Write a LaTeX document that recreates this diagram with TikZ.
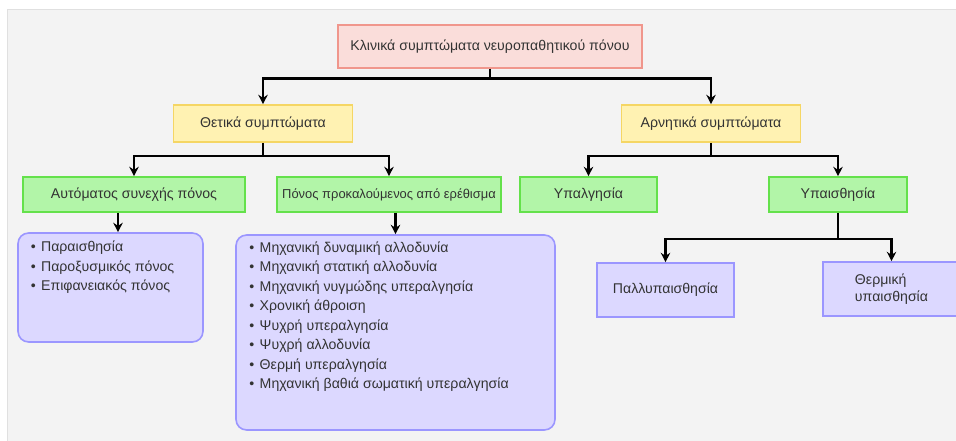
\documentclass[tikz,border=0pt]{standalone}
\usepackage{fontspec}
\setmainfont{Liberation Sans}
\definecolor{titlepink}{RGB}{250,221,218}
\definecolor{titleedge}{RGB}{240,150,140}
\definecolor{posyellow}{RGB}{255,242,178}
\definecolor{yellowedge}{RGB}{245,214,100}
\definecolor{symgreen}{RGB}{178,245,168}
\definecolor{greenedge}{RGB}{100,225,75}
\definecolor{listlilac}{RGB}{220,216,255}
\definecolor{lilacedge}{RGB}{155,150,255}
\definecolor{panelgray}{RGB}{243,243,243}
\usetikzlibrary{arrows.meta, positioning, calc}

\begin{document}
\begin{tikzpicture}[x=0.75pt, y=-0.75pt,
    box/.style={draw, line width=1.2pt, inner sep=2pt, text=black!80, font=\fontsize{10.6}{12.5}\selectfont},
    titlebox/.style={box, fill=titlepink, draw=titleedge, minimum width=228pt, minimum height=32pt},
    groupbox/.style={box, fill=posyellow, draw=yellowedge, minimum width=134pt, minimum height=27.75pt},
    symbox/.style={box, fill=symgreen, draw=greenedge, minimum height=26.25pt},
    lilacbox/.style={box, fill=listlilac, draw=lilacedge},
    listbox/.style={lilacbox, rounded corners=8pt},
    listtext/.style={inner sep=0pt, align=left, text=black!80, font=\fontsize{10.6}{14.6}\selectfont},
    link/.style={line width=1.7pt, black},
    arr/.style={link, -{Stealth[length=7pt, width=7pt]}}
  ]
  \useasboundingbox (0,0) rectangle (956,441);
  \fill[panelgray, draw=black!12] (7,9) rectangle (970,460);

  % top level
  \node[titlebox] (klin) at (490,46.5) {Κλινικά συμπτώματα νευροπαθητικού πόνου};
  \node[groupbox] (thet) at (263,123.5) {Θετικά συμπτώματα};
  \node[groupbox] (arn) at (711,123.5) {Αρνητικά συμπτώματα};

  % green row
  \node[symbox, minimum width=166.5pt] (auto) at (134,194.5) {Αυτόματος συνεχής πόνος};
  \node[symbox, minimum width=168pt, font=\fontsize{9.7}{11}\selectfont] (pon) at (389,194.5) {Πόνος προκαλούμενος από ερέθισμα};
  \node[symbox, minimum width=102.75pt] (ypalg) at (588.5,194.5) {Υπαλγησία};
  \node[symbox, minimum width=103.5pt] (ypais) at (838,194.5) {Υπαισθησία};

  % lists
  \node[listbox, minimum width=138.75pt, minimum height=81.75pt] (list1) at (110.5,287.5) {};
  \node[listtext, anchor=north west] (items1) at ([xshift=10pt, yshift=-6.5pt]list1.north west)
    {\textbullet\hspace{4pt}Παραισθησία\\
     \textbullet\hspace{4pt}Παροξυσμικός πόνος\\
     \textbullet\hspace{4pt}Επιφανειακός πόνος};
  \node[listbox, minimum width=239.25pt, minimum height=146.25pt] (list2) at (395.5,332.5) {};
  \node[listtext, anchor=north west] (items2) at ([xshift=10.5pt, yshift=-5.5pt]list2.north west)
    {\textbullet\hspace{4pt}Μηχανική δυναμική αλλοδυνία\\
     \textbullet\hspace{4pt}Μηχανική στατική αλλοδυνία\\
     \textbullet\hspace{4pt}Μηχανική νυγμώδης υπεραλγησία\\
     \textbullet\hspace{4pt}Χρονική άθροιση\\
     \textbullet\hspace{4pt}Ψυχρή υπεραλγησία\\
     \textbullet\hspace{4pt}Ψυχρή αλλοδυνία\\
     \textbullet\hspace{4pt}Θερμή υπεραλγησία\\
     \textbullet\hspace{4pt}Μηχανική βαθιά σωματική υπεραλγησία};

  % negative branch leaves
  \node[lilacbox, minimum width=102.75pt, minimum height=40.5pt] (pall) at (665.5,290) {Παλλυπαισθησία};
  \node[lilacbox, minimum width=102.75pt, minimum height=40.5pt, align=left] (therm) at (891.5,289) {Θερμική\\υπαισθησία};

  % connectors
  \draw[link] (klin.south) -- ++(0,10) coordinate (s1);
  \draw[arr] (s1) -| (thet.north);
  \draw[arr] (s1) -| (arn.north);
  \draw[link] (thet.south) -- ++(0,13) coordinate (s2);
  \draw[arr] (s2) -| (auto.north);
  \draw[arr] (s2) -| (pon.north);
  \draw[link] (arn.south) -- ++(0,13) coordinate (s3);
  \draw[arr] (s3) -| (ypalg.north);
  \draw[arr] (s3) -| (ypais.north);
  \draw[link] (ypais.south) -- ++(0,26.5) coordinate (s4);
  \draw[arr] (s4) -| (pall.north);
  \draw[arr] (s4) -| (therm.north);
  \draw[arr] ([xshift=-12pt]auto.south) -- ([xshift=-12pt]auto.south |- list1.north);
  \draw[arr] (list2.north |- pon.south) -- (list2.north);
\end{tikzpicture}
\end{document}
